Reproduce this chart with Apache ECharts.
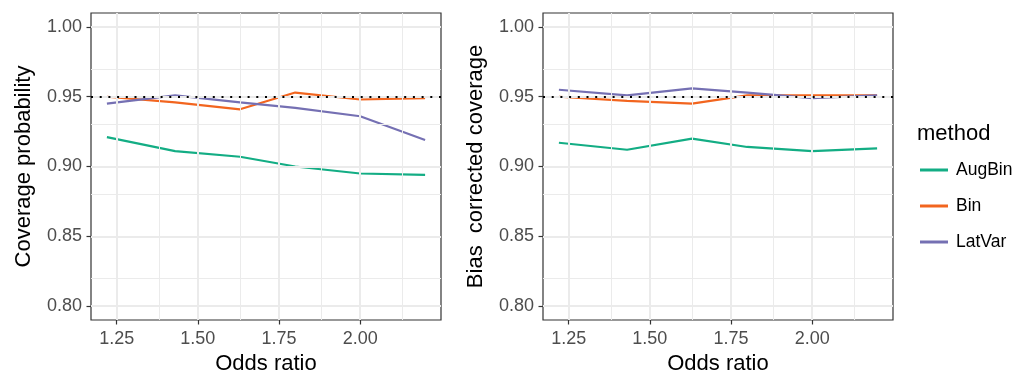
<!DOCTYPE html>
<html>
<head>
<meta charset="utf-8">
<script src="https://cdn.jsdelivr.net/npm/echarts@6/dist/echarts.min.js"></script>
<style>html,body{margin:0;padding:0;background:#fff}#c{width:1015px;height:375px}</style>
</head>
<body>
<div id="c"></div>
<script>
// ---- data ----
const oddsRatio = [1.22, 1.43, 1.63, 1.80, 2.00, 2.20];
const methods = ['AugBin', 'Bin', 'LatVar'];
const coverageAugBin = [0.921, 0.911, 0.907, 0.900, 0.895, 0.894];
const coverageBin    = [0.950, 0.946, 0.941, 0.953, 0.948, 0.949];
const coverageLatVar = [0.945, 0.951, 0.946, 0.942, 0.936, 0.919];
const biasCorrAugBin = [0.917, 0.912, 0.920, 0.914, 0.911, 0.913];
const biasCorrBin    = [0.950, 0.947, 0.945, 0.951, 0.951, 0.951];
const biasCorrLatVar = [0.955, 0.951, 0.956, 0.953, 0.949, 0.951];
const nominal = 0.95;
const xMajor = [1.25, 1.50, 1.75, 2.00];
const xMinor = [1.375, 1.625, 1.875, 2.125];
const yMajor = [0.80, 0.85, 0.90, 0.95, 1.00];
const yMinor = [0.825, 0.875, 0.925, 0.975];
const xLabels = ['1.25', '1.50', '1.75', '2.00'];
const yLabels = ['0.80', '0.85', '0.90', '0.95', '1.00'];
const yTitles = ['Coverage probability', 'Bias  corrected coverage'];
const xTitle = 'Odds ratio';
const legendTitle = 'method';

// ---- styling ----
const colors = {AugBin: '#13AD84', Bin: '#F2651F', LatVar: '#7570B3'};
const FONT = '"Liberation Sans", Arial, Helvetica, sans-serif';
const xRange = [1.171, 2.249];
const yRange = [0.79, 1.01];
const panels = [
  {left: 91, values: [coverageAugBin, coverageBin, coverageLatVar]},
  {left: 543, values: [biasCorrAugBin, biasCorrBin, biasCorrLatVar]}
];

const fmt = (arr, labels) => v => {
  const i = arr.findIndex(a => Math.abs(a - v) < 1e-9);
  return i >= 0 ? labels[i] : '';
};

const grids = [], xAxes = [], yAxes = [], series = [];
panels.forEach((p, k) => {
  grids.push({left: p.left, top: 13, width: 350, height: 307, show: true,
    backgroundColor: '#fff', borderColor: '#333333', borderWidth: 1.2,
    containLabel: false, outerBoundsMode: 'none'});
  xAxes.push({type: 'value', gridIndex: k, min: xRange[0], max: xRange[1],
    name: xTitle, nameLocation: 'middle', nameGap: 33,
    nameTextStyle: {fontFamily: FONT, fontSize: 22, color: '#000'},
    axisLine: {show: false},
    axisTick: {show: true, customValues: xMajor, length: 4.5, lineStyle: {color: '#333333', width: 1.2}},
    axisLabel: {customValues: xMajor, formatter: fmt(xMajor, xLabels), fontFamily: FONT, fontSize: 18, color: '#4D4D4D', margin: 10},
    splitLine: {show: false}, minorSplitLine: {show: false}});
  yAxes.push({type: 'value', gridIndex: k, min: yRange[0], max: yRange[1],
    name: yTitles[k], nameLocation: 'middle', nameGap: 56,
    nameTextStyle: {fontFamily: FONT, fontSize: 22, color: '#000'},
    axisLine: {show: false},
    axisTick: {show: true, customValues: yMajor, length: 4.5, lineStyle: {color: '#333333', width: 1.2}},
    axisLabel: {customValues: yMajor, formatter: fmt(yMajor, yLabels), fontFamily: FONT, fontSize: 18, color: '#4D4D4D', margin: 9},
    splitLine: {show: false}});
  // grid lines
  const gl = [];
  xMinor.forEach(v => gl.push({xAxis: v, lineStyle: {color: '#EBEBEB', width: 1, type: 'solid'}}));
  yMinor.forEach(v => gl.push({yAxis: v, lineStyle: {color: '#EBEBEB', width: 1, type: 'solid'}}));
  xMajor.forEach(v => gl.push({xAxis: v, lineStyle: {color: '#EBEBEB', width: 2, type: 'solid'}}));
  yMajor.forEach(v => gl.push({yAxis: v, lineStyle: {color: '#EBEBEB', width: 2, type: 'solid'}}));
  series.push({type: 'line', name: '_grid' + k, xAxisIndex: k, yAxisIndex: k, data: [], z: 1, silent: true,
    markLine: {silent: true, symbol: ['none', 'none'], label: {show: false}, animation: false, data: gl}});
  methods.forEach((m, j) => {
    series.push({type: 'line', name: m, xAxisIndex: k, yAxisIndex: k, z: 3,
      data: oddsRatio.map((x, i) => [x, p.values[j][i]]),
      showSymbol: false, symbol: 'none', smooth: false,
      lineStyle: {color: colors[m], width: 2.2}, itemStyle: {color: colors[m]}});
  });
  series.push({type: 'line', name: '_ref' + k, xAxisIndex: k, yAxisIndex: k, data: [], z: 5, silent: true,
    markLine: {silent: true, symbol: ['none', 'none'], label: {show: false}, animation: false,
      data: [{yAxis: nominal, lineStyle: {color: '#000', width: 2, type: [2, 6.7], cap: 'butt'}}]}});
});

const chart = echarts.init(document.getElementById('c'), null, {renderer: 'canvas'});
chart.setOption({
  animation: false,
  backgroundColor: '#fff',
  grid: grids, xAxis: xAxes, yAxis: yAxes, series: series,
  legend: {data: methods, orient: 'vertical', left: 920, top: 161, itemGap: 18, padding: 0,
    itemWidth: 28, itemHeight: 3, icon: 'rect', selectedMode: false,
    textStyle: {fontFamily: FONT, fontSize: 17.5, color: '#000', padding: [0, 0, 0, 3]}},
  graphic: [{type: 'text', left: 917, top: 123,
    style: {text: legendTitle, font: '22px ' + FONT, fill: '#000'}}]
});
</script>
</body>
</html>
